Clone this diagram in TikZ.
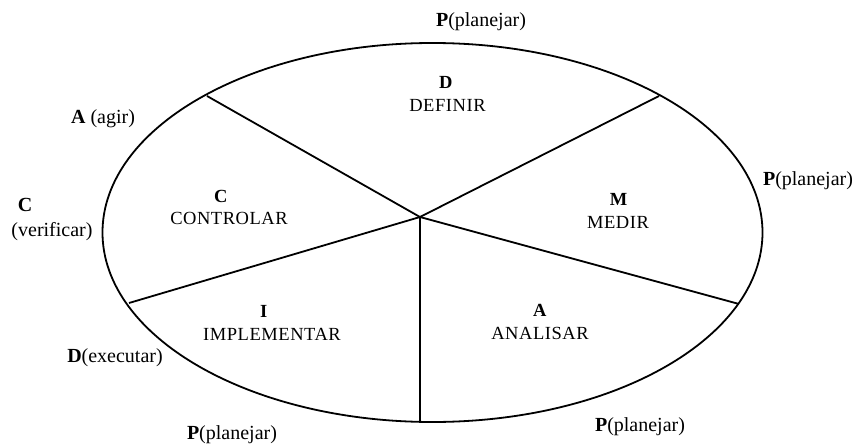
\documentclass[tikz,border=0pt]{standalone}
\usepackage{fontspec}
\setmainfont{Liberation Serif}
\newfontfamily\sectorfont[LetterSpace=3]{Liberation Serif}
\begin{document}
\begin{tikzpicture}[x=1pt,y=-1pt,
  rim/.style={line width=1.8pt},
  spoke/.style={line width=1.8pt},
  phase/.style={inner sep=0pt,font=\fontsize{20}{23}\selectfont},
  sector/.style={inner sep=0pt,font=\fontsize{18.5}{21}\sectorfont}]
\useasboundingbox (0,0) rectangle (857,444);

% cycle outline
\draw[rim] (432.5,232.5) ellipse [x radius=330, y radius=189.5];

% hub and the points where the spokes meet the rim
\coordinate (hub) at (420,217);
\coordinate (rimD) at (207,96);
\coordinate (rimM) at (659,96);
\coordinate (rimA) at (739,304);
\coordinate (rimI) at (420,421);
\coordinate (rimC) at (129,303);

\draw[spoke] (hub) -- (rimD);
\draw[spoke] (hub) -- (rimM);
\draw[spoke] (hub) -- (rimA);
\draw[spoke] (hub) -- (rimI);
\draw[spoke] (hub) -- (rimC);

% DMAIC sectors
\node[sector] (dL) at (446,82) {\textbf{D}};
\node[sector] (dT) at (447.5,105.5) {DEFINIR};
\node[sector] (mL) at (619,199) {\textbf{M}};
\node[sector] (mT) at (618,222) {MEDIR};
\node[sector] (aL) at (540,310) {\textbf{A}};
\node[sector] (aT) at (540,333) {ANALISAR};
\node[sector] (iL) at (264,311.5) {\textbf{I}};
\node[sector] (iT) at (272,334.5) {IMPLEMENTAR};
\node[sector] (cL) at (221,196) {\textbf{C}};
\node[sector] (cT) at (229,218) {CONTROLAR};

% PDCA phases around the rim
\node[phase] (pTop) at (481,22) {\textbf{P}(planejar)};
\node[phase] (pRight) at (808,181) {\textbf{P}(planejar)};
\node[phase] (pBR) at (640,427) {\textbf{P}(planejar)};
\node[phase] (pBL) at (232,435) {\textbf{P}(planejar)};
\node[phase] (dEx) at (115,358) {\textbf{D}(executar)};
\node[phase] (cL2) at (25,205) {\textbf{C}};
\node[phase] (cVer) at (52,231.5) {(verificar)};
\node[phase] (aAg) at (103,119) {\textbf{A} (agir)};
\end{tikzpicture}
\end{document}
